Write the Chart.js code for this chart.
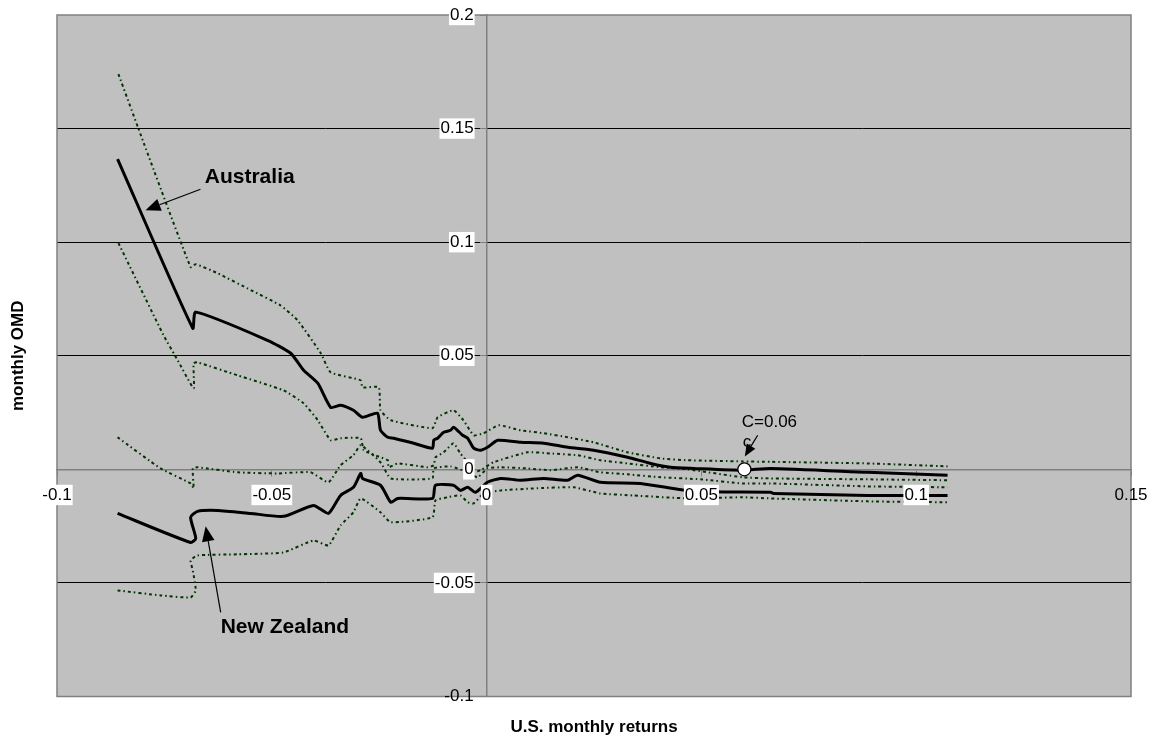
<!DOCTYPE html>
<html><head><meta charset="utf-8">
<script src="https://cdn.jsdelivr.net/npm/chart.js@4/dist/chart.umd.min.js"></script>
<style>html,body{margin:0;padding:0;background:#fff;}#wrap{width:1153px;height:736px;position:relative;}</style>
</head><body><div id="wrap"><canvas id="c"></canvas></div>
<script>
// ---- data ----
const xTicks = [-0.1, -0.05, 0, 0.05, 0.1, 0.15];
const xTickLabels = ['-0.1', '-0.05', '0', '0.05', '0.1', '0.15'];
const yTicks = [-0.1, -0.05, 0, 0.05, 0.1, 0.15, 0.2];
const yTickLabels = ['-0.1', '-0.05', '0', '0.05', '0.1', '0.15', '0.2'];

const australia = [[-0.0859,0.1366],[-0.0684,0.0621],[-0.0677,0.0692],[-0.0510,0.0568],[-0.0456,0.0511],[-0.0426,0.0436],[-0.0393,0.0379],[-0.0363,0.0273],[-0.0340,0.0282],[-0.0310,0.0260],[-0.0289,0.0229],[-0.0254,0.0247],[-0.0247,0.0172],[-0.0230,0.0141],[-0.0216,0.0137],[-0.0170,0.0115],[-0.0126,0.0093],[-0.0123,0.0128],[-0.0114,0.0137],[-0.0100,0.0163],[-0.0084,0.0172],[-0.0077,0.0185],[-0.0068,0.0172],[-0.0056,0.0150],[-0.0044,0.0137],[-0.0030,0.0093],[-0.0014,0.0084],[0.0002,0.0097],[0.0026,0.0128],[0.0079,0.0119],[0.0133,0.0115],[0.0189,0.0097],[0.0249,0.0084],[0.0328,0.0053],[0.0382,0.0026],[0.0428,0.0009],[0.0482,0.0004],[0.0596,-0.0004],[0.0661,0.0004],[0.0887,-0.0013],[0.1073,-0.0026]];
const australiaUpper = [[-0.0857,0.1740],[-0.0798,0.1436],[-0.0689,0.0890],[-0.0677,0.0903],[-0.0626,0.0863],[-0.0549,0.0789],[-0.0480,0.0722],[-0.0440,0.0656],[-0.0386,0.0511],[-0.0363,0.0427],[-0.0293,0.0392],[-0.0289,0.0361],[-0.0251,0.0361],[-0.0247,0.0260],[-0.0223,0.0216],[-0.0126,0.0181],[-0.0114,0.0229],[-0.0077,0.0260],[-0.0054,0.0216],[-0.0030,0.0150],[-0.0007,0.0159],[0.0028,0.0194],[0.0079,0.0172],[0.0133,0.0159],[0.0189,0.0141],[0.0249,0.0119],[0.0328,0.0075],[0.0405,0.0048],[0.0468,0.0040],[0.0596,0.0035],[0.0661,0.0033],[0.0887,0.0026],[0.1073,0.0013]];
const australiaLower = [[-0.0857,0.0996],[-0.0752,0.0590],[-0.0719,0.0480],[-0.0682,0.0357],[-0.0682,0.0467],[-0.0673,0.0471],[-0.0580,0.0414],[-0.0473,0.0348],[-0.0426,0.0291],[-0.0393,0.0216],[-0.0363,0.0128],[-0.0340,0.0137],[-0.0293,0.0137],[-0.0286,0.0084],[-0.0247,0.0053],[-0.0230,0.0040],[-0.0228,0.0009],[-0.0207,0.0026],[-0.0137,0.0009],[-0.0123,0.0018],[-0.0119,0.0053],[-0.0100,0.0075],[-0.0077,0.0115],[-0.0061,0.0070],[-0.0044,0.0031],[-0.0030,-0.0013],[-0.0014,-0.0004],[0.0016,0.0031],[0.0095,0.0075],[0.0149,0.0070],[0.0212,0.0062],[0.0265,0.0040],[0.0328,0.0026],[0.0405,0.0009],[0.0468,0.0000],[0.0596,-0.0035],[0.0661,-0.0040],[0.0887,-0.0044],[0.1073,-0.0048]];
const newZealand = [[-0.0859,-0.0194],[-0.0689,-0.0322],[-0.0677,-0.0304],[-0.0689,-0.0211],[-0.0673,-0.0185],[-0.0626,-0.0181],[-0.0549,-0.0194],[-0.0473,-0.0207],[-0.0403,-0.0159],[-0.0368,-0.0194],[-0.0340,-0.0115],[-0.0310,-0.0079],[-0.0293,-0.0018],[-0.0289,-0.0040],[-0.0247,-0.0070],[-0.0223,-0.0145],[-0.0207,-0.0128],[-0.0126,-0.0128],[-0.0119,-0.0070],[-0.0077,-0.0070],[-0.0061,-0.0093],[-0.0044,-0.0079],[-0.0026,-0.0101],[0.0002,-0.0057],[0.0033,-0.0040],[0.0079,-0.0048],[0.0133,-0.0040],[0.0189,-0.0048],[0.0212,-0.0026],[0.0265,-0.0057],[0.0358,-0.0062],[0.0482,-0.0097],[0.0661,-0.0101],[0.0668,-0.0106],[0.0887,-0.0115],[0.1073,-0.0115]];
const newZealandUpper = [[-0.0859,0.0141],[-0.0759,0.0004],[-0.0689,-0.0062],[-0.0682,-0.0084],[-0.0684,0.0004],[-0.0673,0.0009],[-0.0580,-0.0013],[-0.0487,-0.0018],[-0.0410,-0.0013],[-0.0368,-0.0057],[-0.0340,0.0018],[-0.0310,0.0062],[-0.0293,0.0106],[-0.0247,0.0031],[-0.0223,-0.0040],[-0.0126,-0.0040],[-0.0123,0.0004],[-0.0084,0.0013],[-0.0044,-0.0013],[-0.0021,-0.0035],[0.0002,0.0004],[0.0033,0.0009],[0.0095,0.0004],[0.0149,-0.0004],[0.0212,0.0009],[0.0265,-0.0013],[0.0328,-0.0022],[0.0405,-0.0035],[0.0498,-0.0044],[0.0596,-0.0062],[0.0661,-0.0062],[0.0887,-0.0075],[0.1073,-0.0079]];
const newZealandLower = [[-0.0859,-0.0533],[-0.0759,-0.0555],[-0.0689,-0.0564],[-0.0677,-0.0533],[-0.0684,-0.0445],[-0.0689,-0.0401],[-0.0673,-0.0379],[-0.0580,-0.0374],[-0.0473,-0.0366],[-0.0403,-0.0313],[-0.0368,-0.0335],[-0.0340,-0.0247],[-0.0310,-0.0189],[-0.0293,-0.0128],[-0.0247,-0.0189],[-0.0223,-0.0233],[-0.0126,-0.0211],[-0.0119,-0.0137],[-0.0091,-0.0123],[-0.0061,-0.0115],[-0.0044,-0.0145],[-0.0030,-0.0150],[-0.0007,-0.0106],[0.0033,-0.0093],[0.0109,-0.0084],[0.0203,-0.0079],[0.0265,-0.0106],[0.0342,-0.0115],[0.0468,-0.0128],[0.0596,-0.0123],[0.0661,-0.0128],[0.0887,-0.0141],[0.1073,-0.0145]];
const thresholdPoint = [[0.06, 0]];

// annotations in data units: text label, its anchor, and arrow start/tip
const labels = [
  { text: 'Australia', x: -0.0656, y: 0.1260, bold: true, size: 21 },
  { text: 'New Zealand', x: -0.0619, y: -0.0722, bold: true, size: 21 },
  { text: 'C=0.06', x: 0.0594, y: 0.0185, bold: false, size: 17 },
  { text: 'c', x: 0.0596, y: 0.0097, bold: false, size: 17 }
];
const arrows = [
  { from: [-0.0666, 0.1233], to: [-0.0794, 0.1141], head: 15 },
  { from: [-0.0619, -0.0630], to: [-0.0654, -0.0251], head: 15 },
  { from: [0.0631, 0.0150], to: [0.0601, 0.0057], head: 12 }
];
// tick labels sit a little off the crossing axes
const yLabelAnchor = -0.00303;  // x value where y labels end
const xLabelAnchor = -0.0068;   // y value where x labels start

const FONT = "'Liberation Sans', Arial, sans-serif";
const toPts = arr => arr.map(p => ({ x: p[0], y: p[1] }));
const near = (a, b) => Math.abs(a - b) < 1e-9;

const plotBg = {
  id: 'plotBg',
  beforeDraw(chart) {
    const { ctx, chartArea: a } = chart;
    ctx.save();
    ctx.fillStyle = '#C0C0C0';
    ctx.fillRect(a.left, a.top, a.width, a.height);
    ctx.restore();
  },
  beforeDatasetsDraw(chart) {
    const { ctx, chartArea: a } = chart;
    ctx.save();
    ctx.strokeStyle = '#808080';
    ctx.lineWidth = 1.5;
    ctx.strokeRect(a.left, a.top, a.width, a.height);
    ctx.restore();
  }
};

const annot = {
  id: 'annot',
  afterDatasetsDraw(chart) {
    const { ctx, scales: { x, y } } = chart;
    ctx.save();
    ctx.fillStyle = '#000';
    ctx.textBaseline = 'alphabetic';
    ctx.textAlign = 'left';
    labels.forEach(l => {
      ctx.font = (l.bold ? 'bold ' : '') + l.size + 'px ' + FONT;
      ctx.fillText(l.text, x.getPixelForValue(l.x), y.getPixelForValue(l.y));
    });
    ctx.strokeStyle = '#000';
    ctx.lineWidth = 1.2;
    arrows.forEach(a => {
      const x1 = x.getPixelForValue(a.from[0]), y1 = y.getPixelForValue(a.from[1]);
      const x2 = x.getPixelForValue(a.to[0]), y2 = y.getPixelForValue(a.to[1]);
      const ang = Math.atan2(y2 - y1, x2 - x1);
      const L = a.head, W = a.head * 0.42;
      const bx = x2 - L * Math.cos(ang), by = y2 - L * Math.sin(ang);
      ctx.beginPath(); ctx.moveTo(x1, y1); ctx.lineTo(bx, by); ctx.stroke();
      ctx.beginPath();
      ctx.moveTo(x2, y2);
      ctx.lineTo(bx + W * Math.sin(ang), by - W * Math.cos(ang));
      ctx.lineTo(bx - W * Math.sin(ang), by + W * Math.cos(ang));
      ctx.closePath(); ctx.fill();
    });
    ctx.restore();
  }
};

const band = (data) => ({
  data: toPts(data), showLine: true, pointRadius: 0, borderColor: '#003300',
  borderWidth: 2, borderDash: [3, 3, 1.5, 3], tension: 0.15, fill: false
});
const main = (data) => ({
  data: toPts(data), showLine: true, pointRadius: 0, borderColor: '#000',
  borderWidth: 3, tension: 0.2, fill: false
});
const tickFont = { family: FONT, size: 17 };
const backdropPad = { left: 1, right: 1, top: 0, bottom: 0 };

new Chart(document.getElementById('c'), {
  type: 'scatter',
  data: {
    datasets: [
      { data: toPts(thresholdPoint), showLine: false, pointRadius: 6.5, pointBackgroundColor: '#fff', pointBorderColor: '#000', pointBorderWidth: 1.2 },
      main(australia),
      main(newZealand),
      band(australiaUpper),
      band(australiaLower),
      band(newZealandUpper),
      band(newZealandLower)
    ]
  },
  options: {
    responsive: true, maintainAspectRatio: false, animation: false,
    layout: { autoPadding: false, padding: { top: 15, right: 22, left: 0, bottom: 0 } },
    plugins: {
      legend: { display: false },
      tooltip: { enabled: false },
      title: { display: true, position: 'bottom', fullSize: false, text: 'U.S. monthly returns', color: '#000',
               font: { family: FONT, size: 17, weight: 'bold', lineHeight: 1 }, padding: { top: 22.5, bottom: 0 } },
      subtitle: { display: true, position: 'left', fullSize: false, text: 'monthly OMD', color: '#000',
               font: { family: FONT, size: 17, weight: 'bold', lineHeight: 1 }, padding: { top: 9.5, bottom: 30.5 } }
    },
    scales: {
      x: {
        type: 'linear', position: { y: 0 }, min: -0.1, max: 0.15,
        afterBuildTicks: s => { s.ticks = xTicks.map(v => ({ value: v })); },
        ticks: { display: false },
        grid: { drawOnChartArea: false, drawTicks: true, tickLength: 6, tickColor: '#808080', tickWidth: 1 },
        border: { display: true, color: '#808080', width: 1.5 }
      },
      xLabels: {
        type: 'linear', axis: 'x', position: { y: xLabelAnchor }, min: -0.1, max: 0.15,
        afterBuildTicks: s => { s.ticks = xTicks.map(v => ({ value: v })); },
        ticks: {
          autoSkip: false, maxRotation: 0, padding: 0, color: '#000', z: 1, font: tickFont,
          callback: (v, i) => xTickLabels[i],
          showLabelBackdrop: true,
          backdropColor: c => (c.tick && near(c.tick.value, 0.15)) ? 'rgba(0,0,0,0)' : '#fff',
          backdropPadding: backdropPad
        },
        grid: { display: false, drawTicks: false },
        border: { display: false }
      },
      y: {
        type: 'linear', position: { x: 0 }, min: -0.1, max: 0.2,
        afterBuildTicks: s => { s.ticks = yTicks.map(v => ({ value: v })); },
        ticks: { display: false },
        grid: {
          drawOnChartArea: true, drawTicks: true, tickLength: 6, tickColor: '#808080', lineWidth: 1,
          color: c => (c.tick && (near(c.tick.value, 0) || near(c.tick.value, 0.2) || near(c.tick.value, -0.1))) ? 'rgba(0,0,0,0)' : '#000'
        },
        border: { display: true, color: '#808080', width: 1.5 }
      },
      yLabels: {
        type: 'linear', axis: 'y', position: { x: yLabelAnchor }, min: -0.1, max: 0.2,
        afterBuildTicks: s => { s.ticks = yTicks.map(v => ({ value: v })); },
        ticks: {
          autoSkip: false, padding: 0, color: '#000', z: 1, font: tickFont,
          callback: (v, i) => yTickLabels[i],
          showLabelBackdrop: true,
          backdropColor: c => (c.tick && near(c.tick.value, -0.1)) ? 'rgba(0,0,0,0)' : '#fff',
          backdropPadding: backdropPad
        },
        grid: { display: false, drawTicks: false },
        border: { display: false }
      }
    }
  },
  plugins: [plotBg, annot]
});
</script></body></html>
